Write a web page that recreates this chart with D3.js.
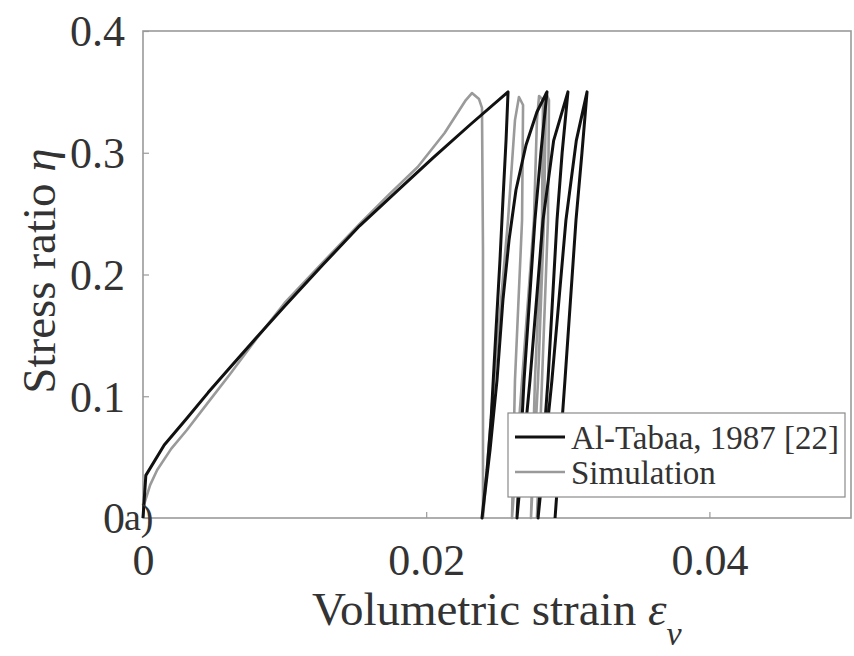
<!DOCTYPE html>
<html>
<head>
<meta charset="utf-8">
<script src="https://cdn.jsdelivr.net/npm/d3@7"></script>
<style>
  html, body { margin: 0; padding: 0; background: #fff; }
  svg { display: block; }
  text { font-family: "Liberation Serif", "DejaVu Serif", serif; fill: #333; }
</style>
</head>
<body>
<svg id="chart" width="854" height="656"></svg>
<script>
// ---- data ----
const xTicks = [0, 0.02, 0.04];
const xTickLabels = ["0", "0.02", "0.04"];
const yTicks = [0, 0.1, 0.2, 0.3, 0.4];
const yTickLabels = ["0", "0.1", "0.2", "0.3", "0.4"];

// Al-Tabaa, 1987 [22] (experiment)
const expEps = [0, 0.0002, 0.0015, 0.0031, 0.0046, 0.0061, 0.0080, 0.0100, 0.0127, 0.0153, 0.0179, 0.0205, 0.0231, 0.02578,
  0.02564, 0.02542, 0.02521, 0.02493, 0.02458, 0.02430, 0.02394,
  0.02451, 0.02500, 0.02542, 0.02585, 0.02634, 0.02705, 0.02782, 0.02853,
  0.02810, 0.02768, 0.02691, 0.02641,
  0.02733, 0.02825, 0.02900, 0.03001,
  0.02960, 0.02924, 0.02860, 0.02790,
  0.02888, 0.02987, 0.03060, 0.03136,
  0.03100, 0.03058, 0.02980, 0.02910];
const expEta = [0, 0.035, 0.060, 0.082, 0.103, 0.123, 0.148, 0.174, 0.208, 0.240, 0.268, 0.296, 0.323, 0.350,
  0.3105, 0.2612, 0.2119, 0.1544, 0.0805, 0.0394, 0,
  0.0559, 0.1133, 0.1791, 0.2283, 0.2694, 0.3064, 0.3335, 0.350,
  0.300, 0.2448, 0.1133, 0,
  0.1133, 0.2448, 0.310, 0.350,
  0.300, 0.2448, 0.1133, 0,
  0.1133, 0.2448, 0.310, 0.350,
  0.300, 0.2448, 0.1133, 0];

// Simulation
const simEps = [0, 0.00007, 0.0005, 0.0010, 0.0020, 0.0031, 0.0046, 0.0061, 0.0080, 0.0100, 0.0127, 0.0153, 0.0174, 0.0194, 0.0213, 0.0228, 0.02323,
  0.02373, 0.02394, 0.02401, 0.02401,
  0.02479, 0.02578, 0.02627, 0.02655,
  0.02684, 0.02677, 0.02627, 0.02606,
  0.02677, 0.02761, 0.02782, 0.02797,
  0.02825, 0.02818, 0.02768, 0.02740,
  0.02790, 0.02832, 0.02846,
  0.02867, 0.02860, 0.02818, 0.02782];
const simEta = [0, 0.0107, 0.027, 0.0394, 0.057, 0.0723, 0.095, 0.1175, 0.147, 0.1766, 0.210, 0.2415, 0.266, 0.2883, 0.3162, 0.3433, 0.349,
  0.3441, 0.3368, 0.2201, 0,
  0.1133, 0.2448, 0.3268, 0.3458,
  0.3392, 0.2448, 0.1133, 0,
  0.1133, 0.2448, 0.3268, 0.3466,
  0.3433, 0.2448, 0.1133, 0,
  0.1133, 0.2448, 0.349,
  0.3433, 0.2448, 0.1133, 0];

const legendLabels = ["Al-Tabaa, 1987 [22]", "Simulation"];
const seriesColors = ["#111111", "#9a9a9a"];

// ---- layout ----
const L = 143, R = 851, T = 31, B = 518;
const svg = d3.select("#chart");
const x = d3.scaleLinear().domain([0, 0.05]).range([L, R]);
const y = d3.scaleLinear().domain([0, 0.4]).range([B, T]);

// axes (inward ticks, box)
const axisColor = "#9a9a9a";
const gx = svg.append("g").attr("transform", `translate(0,${B})`)
  .call(d3.axisBottom(x).tickValues(xTicks).tickSizeInner(-6).tickSizeOuter(0).tickFormat((d, i) => xTickLabels[i]));
const gy = svg.append("g").attr("transform", `translate(${L},0)`)
  .call(d3.axisLeft(y).tickValues(yTicks).tickSizeInner(-6).tickSizeOuter(0).tickFormat((d, i) => yTickLabels[i]));
[gx, gy].forEach(g => {
  g.select(".domain").remove();
  g.selectAll(".tick line").attr("stroke", axisColor).attr("stroke-width", 1.2);
  g.selectAll(".tick text").attr("fill", "#333").style("font-family", '"Liberation Serif", serif').style("font-size", "44px");
});
gx.selectAll(".tick text").attr("dy", null).attr("y", 57);
gy.selectAll(".tick text").attr("x", -18).attr("dy", "0.34em");

svg.append("rect").attr("x", L).attr("y", T).attr("width", R - L).attr("height", B - T)
  .attr("fill", "none").attr("stroke", axisColor).attr("stroke-width", 1.6);

// series
const line = d3.line().x(d => x(d[0])).y(d => y(d[1])).curve(d3.curveLinear);
const simData = simEps.map((e, i) => [e, simEta[i]]);
const expData = expEps.map((e, i) => [e, expEta[i]]);
svg.append("path").datum(simData).attr("d", line).attr("fill", "none")
  .attr("stroke", seriesColors[1]).attr("stroke-width", 2.6).attr("stroke-linejoin", "round");
svg.append("path").datum(expData).attr("d", line).attr("fill", "none")
  .attr("stroke", seriesColors[0]).attr("stroke-width", 3).attr("stroke-linejoin", "round");

// axis labels
const xl = svg.append("text").attr("x", 312).attr("y", 625).style("font-size", "47px");
xl.append("tspan").text("Volumetric strain ");
xl.append("tspan").attr("font-style", "italic").text("ε");
xl.append("tspan").attr("font-style", "italic").attr("dy", 20).style("font-size", "34px").text("v");

const yl = svg.append("text").attr("transform", "translate(55,271) rotate(-90)")
  .attr("text-anchor", "middle").style("font-size", "47px");
yl.append("tspan").text("Stress ratio ");
yl.append("tspan").attr("font-style", "italic").text("η");

// panel tag
svg.append("text").attr("x", 124).attr("y", 530).style("font-size", "38px").text("a)");

// legend
const lg = svg.append("g");
lg.append("rect").attr("x", 508).attr("y", 413).attr("width", 337).attr("height", 84)
  .attr("fill", "#fff").attr("stroke", "#8a8a8a").attr("stroke-width", 1.2);
legendLabels.forEach((lab, i) => {
  const cy = 437 + i * 35;
  lg.append("line").attr("x1", 515).attr("x2", 565).attr("y1", cy).attr("y2", cy)
    .attr("stroke", seriesColors[i]).attr("stroke-width", i === 0 ? 3 : 2.6);
  lg.append("text").attr("x", 571).attr("y", cy).attr("dy", "0.35em").style("font-size", "33px").text(lab);
});
</script>
</body>
</html>
